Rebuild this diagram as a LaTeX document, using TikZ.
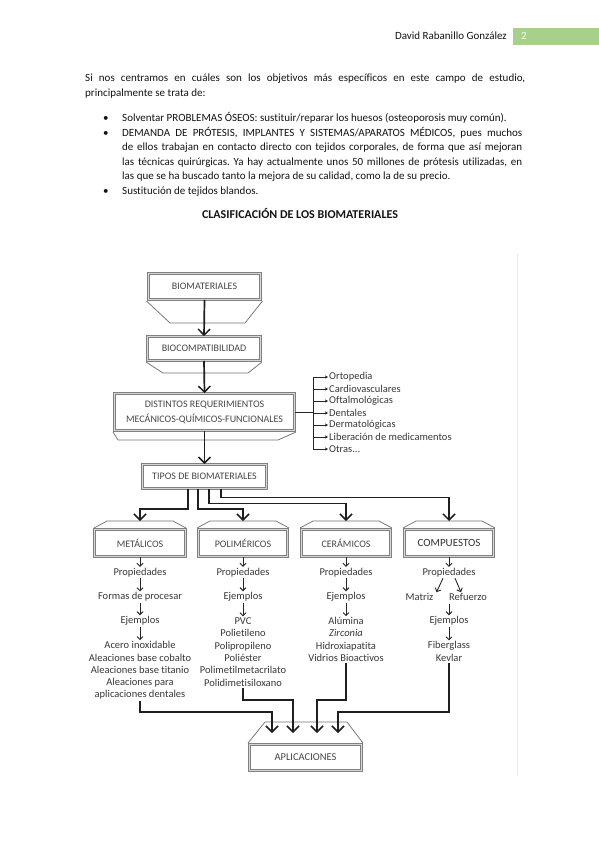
\documentclass[tikz,border=0pt]{standalone}
\usepackage{fontspec}
\setmainfont{Carlito}[Ligatures=NoCommon]
\usetikzlibrary{arrows.meta,calc}
\definecolor{hdrgreen}{RGB}{168,208,141}
\frenchspacing
\begin{document}
\begin{tikzpicture}[x=1pt,y=-1pt,
  body/.style={anchor=base west,inner sep=0pt,font=\fontsize{11}{15}\selectfont,text=black!92},
  dbox/.style={draw=black!50,line width=0.8pt,double=black!16,double distance=1.6pt,fill=white,inner sep=0pt,font=\fontsize{10}{15}\selectfont,text=black!72,align=center},
  roof/.style={draw=black!55,line width=0.75pt,fill=white,line join=round},
  lbl/.style={inner sep=1pt,font=\fontsize{10.5}{12.3}\selectfont,text=black!78,align=center},
  item/.style={anchor=west,inner sep=1pt,font=\fontsize{10.5}{12}\selectfont,text=black!78},
  bigarr/.style={draw=black!88,line width=1.7pt,-{Straight Barb[length=6pt,width=12pt,line width=1.5pt]}},
  sarr/.style={draw=black!85,line width=0.9pt,-{Straight Barb[length=3pt,width=6pt,line width=0.9pt]}},
  larr/.style={draw=black!85,line width=0.7pt,-{Stealth[length=3.2pt,width=3.2pt]}},
  thin/.style={draw=black!85,line width=0.7pt},
]
\useasboundingbox (0,0) rectangle (599,848);
\fill[white] (0,0) rectangle (599,848);

% header
\node[body,anchor=base east] (author) at (507,39.5) {David Rabanillo González};
\node[fill=hdrgreen,minimum width=86pt,minimum height=17pt,anchor=north west,inner sep=0pt] (pg) at (513,27.5) {};
\node[body,text=white] (pgnum) at (521,39.5) {2};

% body text
\node[body] (l1) at (85,82) {\makebox[440pt][s]{Si nos centramos en cuáles son los objetivos más específicos en este campo de estudio,}};
\node[body] (l2) at (85,96.5) {principalmente se trata de:};
\node[body] (d1) at (103,121.5) {\textbullet};
\node[body] (b1) at (122,121.5) {Solventar PROBLEMAS ÓSEOS: sustituir/reparar los huesos (osteoporosis muy común).};
\node[body] (d2) at (103,136) {\textbullet};
\node[body] (b2) at (122,136) {\makebox[400pt][s]{DEMANDA DE PRÓTESIS, IMPLANTES Y SISTEMAS/APARATOS MÉDICOS, pues muchos}};
\node[body] (b3) at (122,150.5) {\makebox[400pt][s]{de ellos trabajan en contacto directo con tejidos corporales, de forma que así mejoran}};
\node[body] (b4) at (122,165) {\makebox[400pt][s]{las técnicas quirúrgicas. Ya hay actualmente unos 50 millones de prótesis utilizadas, en}};
\node[body] (b5) at (122,179.5) {las que se ha buscado tanto la mejora de su calidad, como la de su precio.};
\node[body] (d6) at (103,194.5) {\textbullet};
\node[body] (b6) at (122,194.5) {Sustitución de tejidos blandos.};
\node[body,anchor=base,font=\bfseries\fontsize{12}{14}\selectfont] (title) at (300,218) {CLASIFICACIÓN DE LOS BIOMATERIALES};

% image border of the scheme
\draw[black!8,line width=0.8pt] (517,253) -- (517,775);

% roofs / floors
\draw[roof] (146.5,301) -- (170,323) -- (245,323) -- (262.5,301);
\draw[roof] (146,362) -- (163,373) -- (248,373) -- (262,362);
\draw[roof] (113,432) -- (118,440) -- (278,440) -- (296,432);
\foreach \cx in {140,243,346,449}{
  \draw[roof] (\cx-46,528) -- (\cx-33,521) -- (\cx+33,521) -- (\cx+46,528);
}
\draw[roof] (248,743) -- (265,722) -- (347,722) -- (363,743);

% main boxes
\node[dbox,minimum width=112pt,minimum height=26pt] (bio) at (204.5,286.5) {BIOMATERIALES};
\node[dbox,minimum width=113pt,minimum height=24pt] (bc) at (204,348.5) {BIOCOMPATIBILIDAD};
\node[dbox,minimum width=180pt,minimum height=37pt] (dist) at (204.5,412) {DISTINTOS REQUERIMIENTOS\\MECÁNICOS-QUÍMICOS-FUNCIONALES};
\node[dbox,minimum width=124pt,minimum height=24pt] (tipos) at (204.5,476.5) {TIPOS DE BIOMATERIALES};

\node[dbox,minimum width=91pt,minimum height=27pt] (met) at (140,543) {METÁLICOS};
\node[dbox,minimum width=89pt,minimum height=27pt] (pol) at (243,543) {POLIMÉRICOS};
\node[dbox,minimum width=89pt,minimum height=27pt] (cer) at (346,543) {CERÁMICOS};
\node[dbox,minimum width=89pt,minimum height=27pt,font=\fontsize{11}{13}\selectfont,text=black!80] (com) at (449,543) {COMPUESTOS};
\node[dbox,minimum width=112pt,minimum height=26pt,font=\fontsize{10.5}{13}\selectfont] (apl) at (305.5,757.5) {APLICACIONES};

% vertical flow
\draw[bigarr] (bio.south) -- (bc.north);
\draw[bigarr] (bc.south) -- (dist.north);
\draw[bigarr] (dist.south) -- (tipos.north);

% side list
\node[item] (i1) at (328,377) {Ortopedia};
\node[item] (i2) at (328,389) {Cardiovasculares};
\node[item] (i3) at (328,401) {Oftalmológicas};
\node[item] (i4) at (328,413) {Dentales};
\node[item] (i5) at (328,425) {Dermatológicas};
\node[item] (i6) at (328,437) {Liberación de medicamentos};
\node[item] (i7) at (328,449) {Otras...};
\coordinate (br) at (313,412);
\draw[thin] (dist.east) -- (br);
\draw[thin] (i1.west -| br) -- (i7.west -| br);
\foreach \i in {1,...,7}{ \draw[larr] (i\i.west -| br) -- (i\i.west); }

% targets on roofs
\coordinate (tmet) at (140,521);
\coordinate (tpol) at (243,521);
\coordinate (tcer) at (346,521);
\coordinate (tcom) at (449,521);
\draw[bigarr] ([xshift=-16.5pt]tipos.south) -- ([xshift=-16.5pt]tipos.south |- 0,509) -| (tmet);
\draw[bigarr] ([xshift=-6.5pt]tipos.south) -- ([xshift=-6.5pt]tipos.south |- 0,509) -| (tpol);
\draw[bigarr] ([xshift=4.5pt]tipos.south) -- ([xshift=4.5pt]tipos.south |- 0,503.5) -| (tcer);
\draw[bigarr] ([xshift=16.5pt]tipos.south) -- ([xshift=16.5pt]tipos.south |- 0,497.5) -| (tcom);

% METALICOS column
\node[lbl] (mp) at (140,572.5) {Propiedades};
\node[lbl] (mf) at (140,597) {Formas de procesar};
\node[lbl] (me) at (140,621) {Ejemplos};
\node[lbl] (ml) at (140,670.5) {Acero inoxidable\\Aleaciones base cobalto\\Aleaciones base titanio\\Aleaciones para\\aplicaciones dentales};
\draw[sarr] (met.south) -- (mp.north);
\draw[sarr] (mp.south) -- (mf.north);
\draw[sarr] (mf.south) -- (me.north);
\draw[sarr] (me.south) -- (ml.north);

% POLIMERICOS column
\node[lbl] (pp) at (243,572.5) {Propiedades};
\node[lbl] (pe) at (243,597) {Ejemplos};
\node[lbl,font=\fontsize{10.5}{12.4}\selectfont] (pl) at (243,652) {PVC\\Polietileno\\Polipropileno\\Poliéster\\Polimetilmetacrilato\\Polidimetisiloxano};
\draw[sarr] (pol.south) -- (pp.north);
\draw[sarr] (pp.south) -- (pe.north);
\draw[sarr] (pe.south) -- (pl.north);

% CERAMICOS column
\node[lbl] (cp) at (346,572.5) {Propiedades};
\node[lbl] (ce) at (346,597) {Ejemplos};
\node[lbl] (cl) at (346,639.5) {Alúmina\\\textit{Zirconia}\\Hidroxiapatita\\Vidrios Bioactivos};
\draw[sarr] (cer.south) -- (cp.north);
\draw[sarr] (cp.south) -- (ce.north);
\draw[sarr] (ce.south) -- (cl.north);

% COMPUESTOS column
\node[lbl] (kp) at (449,572.5) {Propiedades};
\node[lbl] (km) at (419.5,597) {Matriz};
\node[lbl] (kr) at (468,597) {Refuerzo};
\coordinate (kmid) at (449,604);
\node[lbl] (ke) at (449,621) {Ejemplos};
\node[lbl] (kl) at (449,651.5) {Fiberglass\\Kevlar};
\draw[sarr] (com.south) -- (kp.north);
\draw[sarr] ([xshift=-6pt]kp.south) -- ([xshift=17pt]km.north);
\draw[sarr] ([xshift=6pt]kp.south) -- ([xshift=-7pt]kr.north);
\draw[sarr] (kmid) -- (ke.north);
\draw[sarr] (ke.south) -- (kl.north);

% to APLICACIONES
\coordinate (a1) at (272,733);
\coordinate (a2) at (293,733);
\coordinate (a3) at (317,733);
\coordinate (a4) at (338,733);
\draw[bigarr] (ml.south) -- (ml.south |- 0,712) -| (a1);
\draw[bigarr] (pl.south) -- (pl.south |- 0,700) -| (a2);
\draw[bigarr] (cl.south) -- (cl.south |- 0,700) -| (a3);
\draw[bigarr] (kl.south) -- (kl.south |- 0,712) -| (a4);
\end{tikzpicture}
\end{document}
